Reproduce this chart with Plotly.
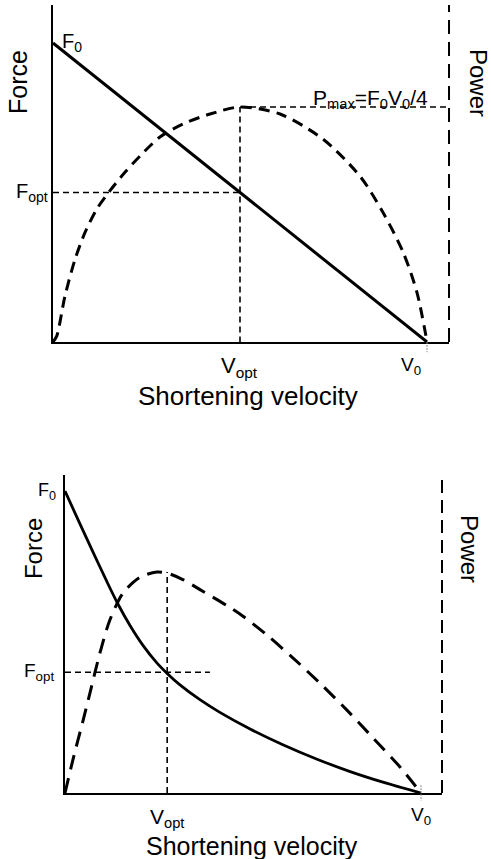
import plotly.graph_objects as go

# Top panel: linear force-velocity relation and its power curve
top_v = [0.0, 1.0]
top_force = [1.0, 0.0]
top_power_v = [0.0, 0.010, 0.032, 0.059, 0.086, 0.117, 0.152, 0.193, 0.233,
               0.286, 0.348, 0.420, 0.5, 0.607, 0.722, 0.821, 0.882, 0.936,
               0.973, 1.0]
top_power = [0.0, 0.025, 0.195, 0.352, 0.467, 0.565, 0.643, 0.723, 0.792,
             0.872, 0.928, 0.970, 1.0, 0.970, 0.863, 0.705, 0.552, 0.382,
             0.211, 0.0]
top_v_opt = 0.5
top_f_opt = 0.5

# Bottom panel: hyperbolic (Hill) force-velocity relation
bot_force_v = [0.0, 0.042, 0.079, 0.118, 0.149, 0.183, 0.219, 0.258, 0.287,
               0.323, 0.379, 0.435, 0.520, 0.612, 0.708, 0.801, 0.893, 1.0]
bot_force = [1.0, 0.891, 0.797, 0.699, 0.625, 0.554, 0.489, 0.431, 0.396,
             0.358, 0.309, 0.267, 0.212, 0.160, 0.112, 0.071, 0.036, 0.0]
bot_power_v = [0.0, 0.022, 0.051, 0.070, 0.098, 0.126, 0.163, 0.211, 0.258,
               0.287, 0.331, 0.388, 0.455, 0.5, 0.567, 0.640, 0.716, 0.792,
               0.865, 0.941, 1.0]
bot_power = [0.0, 0.149, 0.330, 0.452, 0.633, 0.783, 0.905, 0.977, 1.0,
             0.995, 0.966, 0.912, 0.848, 0.800, 0.715, 0.612, 0.497, 0.375,
             0.250, 0.118, 0.0]
bot_v_opt = 0.287
bot_f_opt = 0.40

FONT = "Liberation Sans, Arial, sans-serif"
BLACK = "black"

fig = go.Figure()

# top traces
fig.add_trace(go.Scatter(x=top_v, y=top_force, mode="lines", xaxis="x", yaxis="y",
                         line=dict(color=BLACK, width=3)))
fig.add_trace(go.Scatter(x=top_power_v, y=top_power, mode="lines", xaxis="x", yaxis="y2",
                         line=dict(color=BLACK, width=3, dash="11px,7px",
                                   shape="spline", smoothing=0.8)))
# bottom traces
fig.add_trace(go.Scatter(x=bot_force_v, y=bot_force, mode="lines", xaxis="x2", yaxis="y3",
                         line=dict(color=BLACK, width=2.8, shape="spline", smoothing=0.8)))
fig.add_trace(go.Scatter(x=bot_power_v, y=bot_power, mode="lines", xaxis="x2", yaxis="y4",
                         line=dict(color=BLACK, width=3, dash="15px,9px",
                                   shape="spline", smoothing=0.8)))

axis_common = dict(showgrid=False, zeroline=False, showticklabels=False, ticks="",
                   fixedrange=True)
x_common = dict(axis_common, showline=True, linecolor=BLACK, linewidth=2)
y_common = dict(axis_common, showline=True, linecolor=BLACK, linewidth=2)
y_pow = dict(axis_common, showline=False, side="right")

ref = dict(color=BLACK, width=1.6, dash="6px,4px")
tick = dict(color="#8c8c8c", width=1, dash="2px,1px")
shapes = [
    # top panel
    dict(type="line", xref="x", yref="y", x0=0, x1=top_v_opt, y0=top_f_opt, y1=top_f_opt, line=ref),
    dict(type="line", xref="x", yref="y2", x0=top_v_opt, x1=top_v_opt, y0=-0.045, y1=1.0, line=ref),
    dict(type="line", xref="x", yref="y2", x0=top_v_opt, x1=1.0588, y0=1.0, y1=1.0, line=ref),
    dict(type="line", xref="x domain", yref="y domain", x0=1, x1=1, y0=0, y1=1,
         line=dict(color=BLACK, width=2, dash="14px,8px")),
    dict(type="line", xref="x", yref="paper", x0=1.0, x1=1.0, y0=0.6019, y1=0.590, line=tick),
    # bottom panel
    dict(type="line", xref="x2", yref="y3", x0=0, x1=0.407, y0=bot_f_opt, y1=bot_f_opt, line=ref),
    dict(type="line", xref="x2", yref="y4", x0=bot_v_opt, x1=bot_v_opt, y0=-0.045, y1=1.0, line=ref),
    dict(type="line", xref="x2 domain", yref="y3 domain", x0=1, x1=1, y0=0, y1=1,
         line=dict(color=BLACK, width=2, dash="13px,7px")),
    dict(type="line", xref="x2", yref="paper", x0=1.0, x1=1.0, y0=0.086, y1=0.068, line=tick),
]


def ann(text, x, y, xref, yref, size, xanchor="center", yanchor="middle", **kw):
    return dict(text=text, x=x, y=y, xref=xref, yref=yref, showarrow=False,
                xanchor=xanchor, yanchor=yanchor,
                font=dict(family=FONT, size=size, color=BLACK), **kw)


annotations = [
    # top panel
    ann("F<sub>0</sub>", 0, 1.0, "x", "y", 20, xanchor="left", xshift=7),
    ann("F<sub>opt</sub>", 0, top_f_opt, "x", "y", 20, xanchor="right", xshift=-3),
    ann("P<sub>max</sub>=F<sub>0</sub>V<sub>0</sub>/4", 0.848, 1.0, "x", "y2", 21,
        yanchor="bottom", yshift=-7),
    ann("V<sub>opt</sub>", top_v_opt, 0, "x", "y", 22, yanchor="top", yshift=-9),
    ann("V<sub>0</sub>", 1.0, 0, "x", "y", 19, yanchor="top", xanchor="right",
        yshift=-10, xshift=-4),
    ann("Force", 0, 1, "x domain", "y domain", 25, textangle=-90, xshift=-35, yshift=-77),
    ann("Power", 1, 1, "x domain", "y domain", 24, textangle=90, xshift=29, yshift=-78),
    ann("Shortening velocity", 0.5, 0, "x domain", "y domain", 26,
        yanchor="top", xshift=-3, yshift=-37),
    # bottom panel
    ann("F<sub>0</sub>", 0, 1.0, "x2", "y3", 18, xanchor="right", xshift=-7),
    ann("F<sub>opt</sub>", 0, bot_f_opt, "x2", "y3", 19, xanchor="right", xshift=-9),
    ann("V<sub>opt</sub>", bot_v_opt, 0, "x2", "y3", 21, yanchor="top", yshift=-10),
    ann("V<sub>0</sub>", 1.0, 0, "x2", "y3", 19, yanchor="top", yshift=-9),
    ann("Force", 0, 1, "x2 domain", "y3 domain", 24, textangle=-90, xshift=-32, yshift=-74),
    ann("Power", 1, 1, "x2 domain", "y3 domain", 24, textangle=90, xshift=28, yshift=-74),
    ann("Shortening velocity", 0.5, 0, "x2 domain", "y3 domain", 25,
        yanchor="top", xshift=-2, yshift=-37),
]

fig.update_layout(
    width=491, height=859,
    margin=dict(l=0, r=0, t=0, b=0),
    paper_bgcolor="white", plot_bgcolor="white",
    showlegend=False,
    font=dict(family=FONT, color=BLACK),
    xaxis=dict(x_common, domain=[0.1079, 0.9145], range=[0, 1.0588], anchor="y"),
    yaxis=dict(y_common, domain=[0.6019, 0.9942], range=[0, 1.127], anchor="x"),
    yaxis2=dict(y_pow, overlaying="y", anchor="x", range=[0, 1.434]),
    xaxis2=dict(x_common, domain=[0.1324, 0.9002], range=[0, 1.059], anchor="y3"),
    yaxis3=dict(y_common, domain=[0.0768, 0.447], range=[0, 1.053], anchor="x2"),
    yaxis4=dict(y_pow, overlaying="y3", anchor="x2", range=[0, 1.439]),
    shapes=shapes,
    annotations=annotations,
)

fig.write_html("out.html", config={"displayModeBar": False},
               post_script="document.body.style.margin='0';")
